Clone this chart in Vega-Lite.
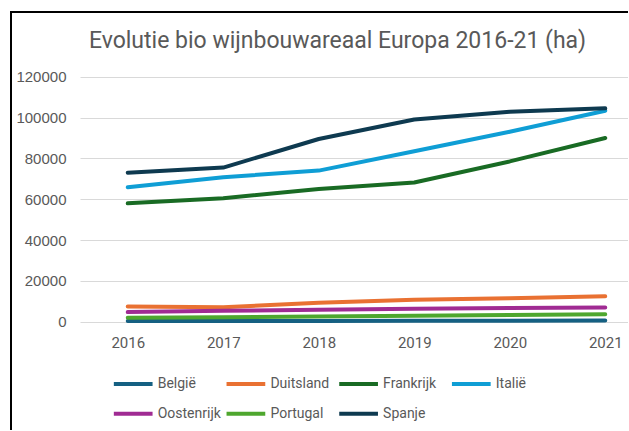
{
  "$schema": "https://vega.github.io/schema/vega-lite/v6.json",
  "width": 617,
  "height": 418,
  "autosize": {"type": "none"},
  "padding": {"left": 11, "top": 12, "right": 0, "bottom": 0},
  "background": "white",
  "config": {
    "view": {"stroke": "#000000", "strokeWidth": 2, "strokeDash": [617, 1035, 418, 1]},
    "font": "Roboto"
  },
  "title": {
    "text": "Evolutie bio wijnbouwareaal Europa 2016-21 (ha)",
    "font": "Roboto",
    "fontSize": 23,
    "fontWeight": "normal",
    "color": "#595959",
    "anchor": "middle",
    "frame": "group",
    "baseline": "alphabetic",
    "offset": -34.7,
    "dx": 18,
    "dy": 24
  },
  "data": {
    "values": [
      {"jaar": 2016, "land": "België", "ha": 300},
      {"jaar": 2017, "land": "België", "ha": 350},
      {"jaar": 2018, "land": "België", "ha": 400},
      {"jaar": 2019, "land": "België", "ha": 450},
      {"jaar": 2020, "land": "België", "ha": 500},
      {"jaar": 2021, "land": "België", "ha": 550},
      {"jaar": 2016, "land": "Duitsland", "ha": 7500},
      {"jaar": 2017, "land": "Duitsland", "ha": 7100},
      {"jaar": 2018, "land": "Duitsland", "ha": 9300},
      {"jaar": 2019, "land": "Duitsland", "ha": 10700},
      {"jaar": 2020, "land": "Duitsland", "ha": 11500},
      {"jaar": 2021, "land": "Duitsland", "ha": 12500},
      {"jaar": 2016, "land": "Frankrijk", "ha": 58000},
      {"jaar": 2017, "land": "Frankrijk", "ha": 60500},
      {"jaar": 2018, "land": "Frankrijk", "ha": 65000},
      {"jaar": 2019, "land": "Frankrijk", "ha": 68200},
      {"jaar": 2020, "land": "Frankrijk", "ha": 78500},
      {"jaar": 2021, "land": "Frankrijk", "ha": 90000},
      {"jaar": 2016, "land": "Italië", "ha": 65800},
      {"jaar": 2017, "land": "Italië", "ha": 70800},
      {"jaar": 2018, "land": "Italië", "ha": 74000},
      {"jaar": 2019, "land": "Italië", "ha": 83500},
      {"jaar": 2020, "land": "Italië", "ha": 93000},
      {"jaar": 2021, "land": "Italië", "ha": 103300},
      {"jaar": 2016, "land": "Oostenrijk", "ha": 4700},
      {"jaar": 2017, "land": "Oostenrijk", "ha": 5400},
      {"jaar": 2018, "land": "Oostenrijk", "ha": 5800},
      {"jaar": 2019, "land": "Oostenrijk", "ha": 6300},
      {"jaar": 2020, "land": "Oostenrijk", "ha": 6700},
      {"jaar": 2021, "land": "Oostenrijk", "ha": 7000},
      {"jaar": 2016, "land": "Portugal", "ha": 1900},
      {"jaar": 2017, "land": "Portugal", "ha": 2200},
      {"jaar": 2018, "land": "Portugal", "ha": 2500},
      {"jaar": 2019, "land": "Portugal", "ha": 2900},
      {"jaar": 2020, "land": "Portugal", "ha": 3300},
      {"jaar": 2021, "land": "Portugal", "ha": 3700},
      {"jaar": 2016, "land": "Spanje", "ha": 73000},
      {"jaar": 2017, "land": "Spanje", "ha": 75500},
      {"jaar": 2018, "land": "Spanje", "ha": 89500},
      {"jaar": 2019, "land": "Spanje", "ha": 99000},
      {"jaar": 2020, "land": "Spanje", "ha": 102800},
      {"jaar": 2021, "land": "Spanje", "ha": 104500}
    ]
  },
  "mark": {"type": "line", "strokeWidth": 4, "strokeCap": "round", "strokeJoin": "round"},
  "encoding": {
    "x": {
      "field": "jaar",
      "type": "quantitative",
      "scale": {"domain": [2015.5, 2021.5], "range": [69, 642], "nice": false, "zero": false},
      "axis": {
        "orient": "bottom",
        "offset": -108.3,
        "grid": false,
        "domain": false,
        "ticks": false,
        "values": [2016, 2017, 2018, 2019, 2020, 2021],
        "format": "d",
        "labelFlush": false,
        "labelOverlap": false,
        "labelPadding": 14,
        "labelFont": "Roboto",
        "labelFontSize": 15,
        "labelColor": "#595959",
        "title": null
      }
    },
    "y": {
      "field": "ha",
      "type": "quantitative",
      "scale": {"domain": [0, 120000], "range": [309.7, 64.7], "nice": false},
      "axis": {
        "offset": -69,
        "grid": true,
        "gridColor": "#D9D9D9",
        "gridWidth": 1,
        "domain": false,
        "ticks": false,
        "values": [0, 20000, 40000, 60000, 80000, 100000, 120000],
        "format": "d",
        "labelPadding": 14,
        "labelFont": "Liberation Sans",
        "labelFontSize": 15,
        "labelColor": "#595959",
        "title": null
      }
    },
    "color": {
      "field": "land",
      "type": "nominal",
      "scale": {
        "domain": ["België", "Duitsland", "Frankrijk", "Italië", "Oostenrijk", "Portugal", "Spanje"],
        "range": ["#156082", "#E97132", "#196B24", "#0F9ED5", "#A02B93", "#4EA72E", "#0E3A50"]
      },
      "legend": {
        "orient": "none",
        "legendX": 100.7,
        "legendY": 350.3,
        "direction": "horizontal",
        "columns": 4,
        "gridAlign": "all",
        "columnPadding": -3.3,
        "rowPadding": -8,
        "padding": 0,
        "symbolType": "stroke",
        "symbolSize": 1500,
        "symbolStrokeWidth": 4,
        "labelOffset": 3,
        "labelFont": "Roboto",
        "labelFontSize": 14,
        "labelColor": "#595959",
        "title": null
      }
    }
  }
}
